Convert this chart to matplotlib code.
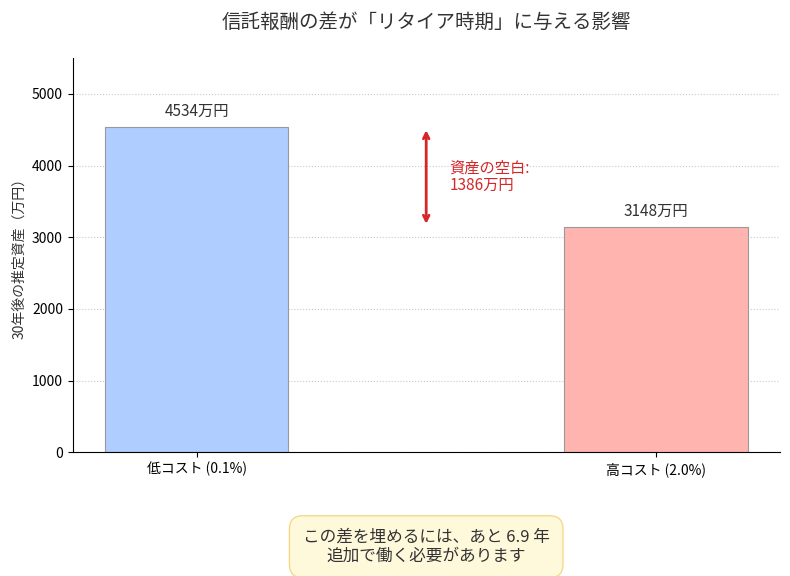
import matplotlib
matplotlib.use('Agg')
import matplotlib.pyplot as plt

plt.rcParams['font.family'] = ['Noto Sans CJK JP', 'DejaVu Sans']

# data
labels = ['低コスト (0.1%)', '高コスト (2.0%)']
values = [4534, 3148]
colors = ['#b0cdff', '#ffb4b0']
gap = values[0] - values[1]
extra_years = 6.9

fig, ax = plt.subplots(figsize=(7.9, 5.76), dpi=100)

xs = range(len(labels))
bars = ax.bar(xs, values, width=0.4, color=colors, edgecolor='#999999', linewidth=0.8)
ax.set_xticks(list(xs))
ax.set_xticklabels(labels, fontsize=10)

for b, v in zip(bars, values):
    ax.text(b.get_x() + b.get_width() / 2, v + 100, f'{v}万円',
            ha='center', va='bottom', fontsize=11, color='#333333')

# gap arrow
ax.annotate('', xy=(0.5, values[0]), xytext=(0.5, values[1]),
            arrowprops=dict(arrowstyle='<->', color='#d62728', lw=2))
ax.text(0.55, (values[0] + values[1]) / 2, f'資産の空白:\n{gap}万円',
        color='#d62728', fontsize=11, va='center', ha='left', linespacing=1.0)

ax.set_ylim(0, 5500)
ax.set_ylabel('30年後の推定資産（万円）', fontsize=10, color='#333333')
ax.set_title('信託報酬の差が「リタイア時期」に与える影響', fontsize=14,
             color='#333333', pad=22)
ax.yaxis.grid(True, linestyle=':', color='#bbbbbb', alpha=0.8)
ax.set_axisbelow(True)
ax.spines['top'].set_visible(False)
ax.spines['right'].set_visible(False)

ax.text(0.5, -0.24, f'この差を埋めるには、あと {extra_years} 年\n追加で働く必要があります',
        transform=ax.transAxes, ha='center', va='center', fontsize=12,
        color='#333333', linespacing=1.1,
        bbox=dict(boxstyle='round,pad=0.8', facecolor='#fff9dc', edgecolor='#f7d88a'))

fig.subplots_adjust(left=0.092, right=0.987, top=0.899, bottom=0.215)
fig.savefig('out.png', dpi=100)
